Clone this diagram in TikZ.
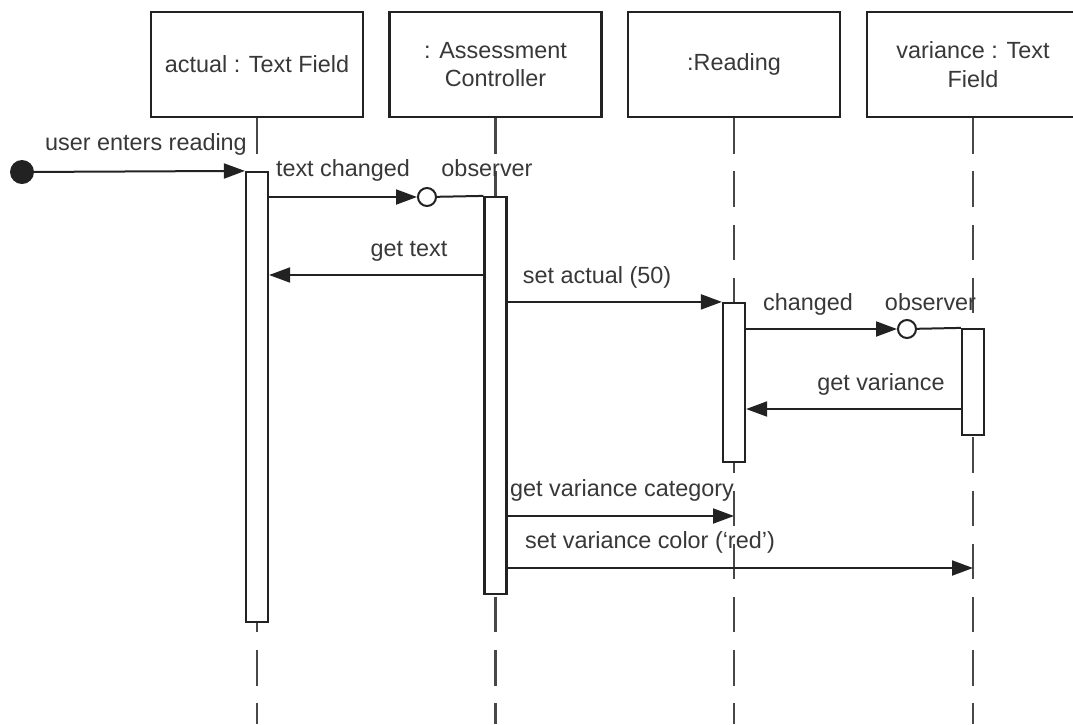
\documentclass[tikz,border=0pt]{standalone}
\usepackage{fontspec}
\setmainfont{Liberation Sans}
\usetikzlibrary{arrows.meta}
\definecolor{ink}{HTML}{222222}
\definecolor{txt}{HTML}{383838}
\definecolor{life}{HTML}{484848}
\begin{document}
\begin{tikzpicture}[x=1pt,y=-1pt,
  lbl/.style={font=\fontsize{23.4}{28.3}\selectfont, text=txt, inner sep=0pt},
  objbox/.style={lbl, draw=ink, line width=2.2pt, fill=white,
    minimum width=212pt, minimum height=105pt, align=center},
  lifeline/.style={draw=life, line width=2.2pt, dash pattern=on 35.5pt off 17.7pt},
  actbar/.style={draw=ink, line width=2.2pt, fill=white, minimum width=22pt, inner sep=0pt},
  msg/.style={draw=ink, line width=2pt, -{Triangle[length=21pt,width=15pt]}},
  plainline/.style={draw=ink, line width=2pt},
  port/.style={circle, draw=ink, fill=white, line width=2pt, minimum size=18pt, inner sep=0pt}
]
\useasboundingbox (0,0) rectangle (1073,724);
\clip (0,0) rectangle (1073,724);
\fill[white] (0,0) rectangle (1073,724);

% object boxes
\node[objbox] (b1) at (257,64.5) {actual : Text Field};
\node[objbox] (b2) at (495.5,64.5) {: Assessment\\Controller};
\node[objbox] (b3) at (734,64.5) {:Reading};
\node[objbox] (b4) at (973,64.5) {variance : Text\\Field};

% lifeline ends
\coordinate (e1) at (257,724);
\coordinate (e2) at (495.5,724);
\coordinate (e3) at (734,724);
\coordinate (e4) at (973,724);
\draw[lifeline] (b1.south) -- (e1);
\draw[lifeline] (b2.south) -- (e2);
\draw[lifeline] (b3.south) -- (e3);
\draw[lifeline] (b4.south) -- (e4);

% activation bars
\node[actbar, minimum height=450pt] (a1) at (257,397) {};
\node[actbar, minimum height=397pt] (a2) at (495.5,395.5) {};
\node[actbar, minimum height=159pt] (a3) at (734,382.5) {};
\node[actbar, minimum height=106pt] (a4) at (973,382) {};

% initial event
\node[circle, fill=ink, minimum size=24pt, inner sep=0pt] (start) at (22,172) {};
\draw[msg] (start) -- (a1.north west);

% text changed -> observer port
\node[port] (c1) at (427,197) {};
\draw[msg] (a1.east |- c1) -- (c1);
\draw[plainline] (c1) -- (a2.north west);

% get text
\coordinate (m3) at (0,275);
\draw[msg] (a2.west |- m3) -- (a1.east |- m3);

% set actual (50)
\draw[msg] (a2.east |- a3.north) -- (a3.north west);

% changed -> observer port
\node[port] (c2) at (907,329) {};
\draw[msg] (a3.east |- c2) -- (c2);
\draw[plainline] (c2) -- (a4.north west);

% get variance
\coordinate (m6) at (0,409);
\draw[msg] (a4.west |- m6) -- (a3.east |- m6);

% get variance category
\coordinate (m7) at (734,516);
\draw[msg] (a2.east |- m7) -- (m7);

% set variance color
\coordinate (m8) at (973,568);
\draw[msg] (a2.east |- m8) -- (m8);

% message labels
\node[lbl, anchor=base] (l1) at (146,150) {user enters reading};
\node[lbl, anchor=base] (l2) at (343,176) {text changed};
\node[lbl, anchor=base] (l3) at (487,176) {observer};
\node[lbl, anchor=base] (l4) at (409,256) {get text};
\node[lbl, anchor=base] (l5) at (597,283) {set actual (50)};
\node[lbl, anchor=base] (l6) at (808,310) {changed};
\node[lbl, anchor=base] (l7) at (930.5,310) {observer};
\node[lbl, anchor=base] (l8) at (881,390) {get variance};
\node[lbl, anchor=base] (l9) at (622,496) {get variance category};
\node[lbl, anchor=base] (l10) at (650,548) {set variance color (‘red’)};
\end{tikzpicture}
\end{document}
